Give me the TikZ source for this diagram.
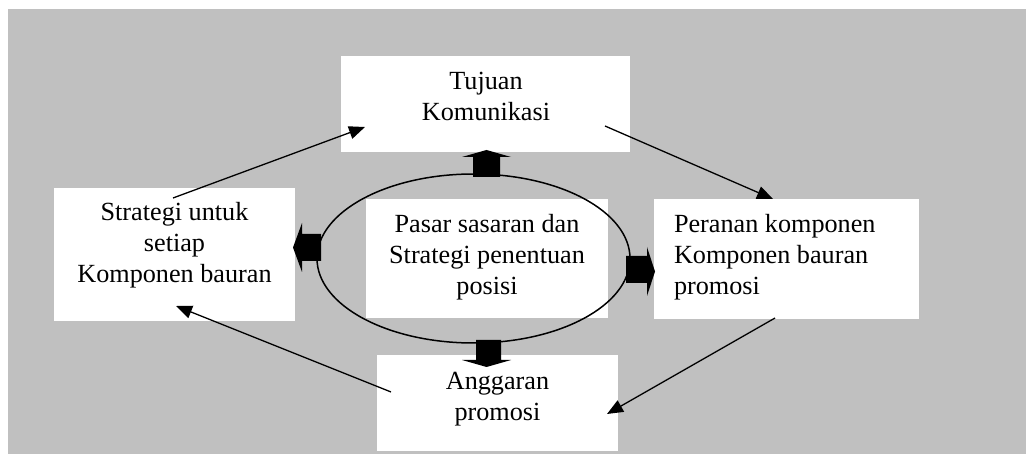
\documentclass[tikz,border=0pt]{standalone}
\usepackage{fontspec}
\setmainfont{Liberation Serif}
\usetikzlibrary{arrows.meta,shapes.geometric}
\definecolor{panel}{RGB}{192,192,192}
\begin{document}
\begin{tikzpicture}[x=1pt,y=-1pt,
  card/.style={fill=white, draw=none, inner sep=0pt, outer sep=0pt},
  words/.style={font=\fontsize{26.2}{31}\selectfont, inner sep=0pt, outer sep=0pt},
  flow/.style={line width=1.3pt, -{Triangle[length=16pt,width=13pt]}},
  block/.style={fill=black, draw=none}]
\useasboundingbox (0,0) rectangle (1026,454);
% grey panel
\fill[panel] (8,9) rectangle (1026,454);

% white cards
\node[card, minimum width=289pt, minimum height=96pt]  (tujuan)   at (485.5,104)   {};
\node[card, minimum width=241pt, minimum height=133pt] (strategi) at (174.5,254.5) {};
\node[card, minimum width=265pt, minimum height=120pt] (peranan)  at (786.5,259)   {};
\node[card, minimum width=241pt, minimum height=96pt]  (anggaran) at (497.5,403)   {};
\node[card, minimum width=242pt, minimum height=119pt] (pasar)    at (487,258.5)   {};

% block arrows leaving the central ellipse
\fill[block] (473,177) -- (473,157) -- (462,157) -- (486.5,150) -- (511,157) -- (500,157) -- (500,177) -- cycle;
\fill[block] (476,340) -- (476,360) -- (462,360) -- (486.5,367) -- (511,360) -- (501,360) -- (501,340) -- cycle;
\fill[block] (321,234) -- (302,234) -- (302,223) -- (293,247.5) -- (302,272) -- (302,261) -- (321,261) -- cycle;
\fill[block] (626,256) -- (647,256) -- (647,247) -- (655,271.5) -- (647,296) -- (647,283) -- (626,283) -- cycle;

% central ellipse
\node[draw, line width=1.5pt, ellipse, inner sep=0pt, minimum width=313pt, minimum height=169pt] (core) at (473.5,258.5) {};

% cycle connectors
\coordinate (s1) at (173,198);  \coordinate (e1) at (365,127);
\coordinate (s2) at (605,126);  \coordinate (e2) at (773,199);
\coordinate (s3) at (775,318);  \coordinate (e3) at (607,414);
\coordinate (s4) at (391,392);  \coordinate (e4) at (176,306);
\draw[flow] (s1) -- (e1);
\draw[flow] (s2) -- (e2);
\draw[flow] (s3) -- (e3);
\draw[flow] (s4) -- (e4);

% texts (anchored on the baseline of their last line)
\node[words, anchor=base, align=center] (t1) at (486,120.7) {Tujuan\\Komunikasi};
\node[words, anchor=base, align=center] (t2) at (174.5,282.7) {Strategi untuk\\setiap\\Komponen bauran};
\node[words, anchor=base west, align=left] (t3) at (674,295) {Peranan komponen\\Komponen bauran\\promosi};
\node[words, anchor=base, align=center] (t4) at (487,295) {Pasar sasaran dan\\Strategi penentuan\\posisi};
\node[words, anchor=base, align=center] (t5) at (497.5,420.7) {Anggaran\\promosi};
\end{tikzpicture}
\end{document}
